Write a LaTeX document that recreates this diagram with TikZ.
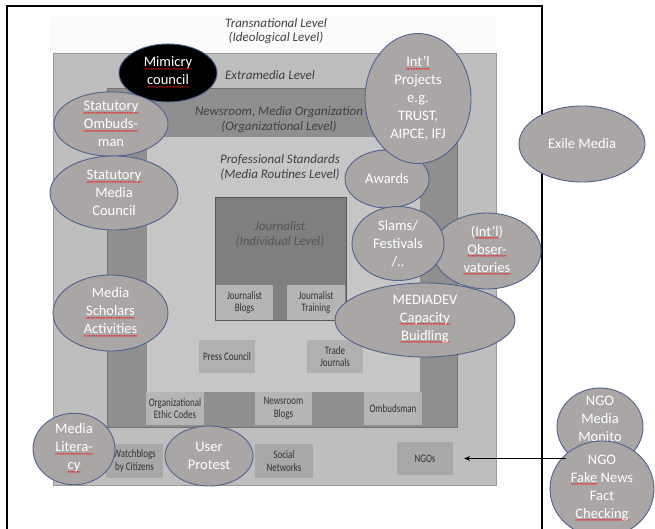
\documentclass[tikz,border=0pt]{standalone}
\usepackage{fontspec}
\setmainfont{Carlito}
\newfontfamily\condfont[FakeStretch=0.78]{Carlito}
\usetikzlibrary{shapes.geometric,arrows.meta}
\definecolor{ringA}{HTML}{BEBEBE}
\definecolor{ringB}{HTML}{8F8F8F}
\definecolor{ringC}{HTML}{C6C6C6}
\definecolor{ringD}{HTML}{7F7F7F}
\definecolor{bubfill}{HTML}{AAA6A6}
\definecolor{bubline}{HTML}{50628E}
\definecolor{lbl}{HTML}{404040}
\definecolor{jourtxt}{HTML}{555555}
\newcommand{\spell}[1]{\setbox0\hbox{#1}\leavevmode\rlap{\color{red}\lower4.5pt\hbox to\wd0{\xleaders\hbox{\fontsize{7.5}{7.5}\selectfont\kern-0.6pt\char`\~\kern-0.6pt}\hfil}}\box0\relax}
\begin{document}
\begin{tikzpicture}[x=1pt,y=-1pt,
	bubtext/.style={text=white,inner sep=0pt,align=center,font=\fontsize{14.5}{18}\selectfont},
	bubble/.style={ellipse,draw=bubline,line width=0.9pt,fill=bubfill,bubtext},
	bub/.style 2 args={bubble,minimum width=#1,minimum height=#2},
	box/.style={fill=#1,text=black!80,inner sep=0pt,align=center,font=\condfont\fontsize{11.5}{12.5}\selectfont},
	level/.style={text=lbl,align=center,font=\itshape\fontsize{13}{14.5}\selectfont}]
	\useasboundingbox (0,0) rectangle (655,529);
	\fill[white] (0,0) rectangle (655,529);
	\draw[line width=1.3pt] (7,529) -- (7,6) -- (542,6) -- (542,529);
	\fill[gray!3] (50,17) rectangle (497,53);
	\draw[fill=ringA,draw=gray!80] (53,53) rectangle (496,485);
	\draw[fill=ringB,draw=gray!90!black] (107,88) rectangle (457,427);
	\fill[ringC] (147,137) rectangle (420,392);
	\draw[fill=ringD,draw=gray!70!black] (215,197) rectangle (346,320);
	\node[level] (trans) at (276,31) {Transnational Level\\(Ideological Level)};
	\node[level] (extra) at (270,75) {Extramedia Level};
	\node[level] (news) at (279,119.5) {Newsroom, Media Organization\\(Organizational Level)};
	\node[level] (prof) at (280,167.5) {Professional Standards\\(Media Routines Level)};
	\node[level,text=jourtxt,font=\itshape\fontsize{13}{15}\selectfont] (jour) at (280,234.5) {Journalist\\(Individual Level)};
	\node[box=gray!58,minimum width=57,minimum height=35] (jblogs) at (244.5,302.5) {Journalist\\Blogs};
	\node[box=gray!58,minimum width=58,minimum height=35] (jtrain) at (316,302.5) {Journalist\\Training};
	\node[box=gray!62,minimum width=56,minimum height=33] (press) at (227,356.5) {Press Council};
	\node[box=gray!62,minimum width=56,minimum height=33] (trade) at (335,356.5) {Trade\\Journals};
	\node[box=gray!58,minimum width=58,minimum height=33] (ethic) at (175,408.5) {Organizational\\Ethic Codes};
	\node[box=gray!58,minimum width=57,minimum height=33] (nblogs) at (283.5,408.5) {Newsroom\\Blogs};
	\node[box=gray!58,minimum width=58,minimum height=33] (ombud) at (393,408.5) {Ombudsman};
	\node[box=gray!68,minimum width=57,minimum height=34] (watch) at (134.5,461) {Watchblogs\\by Citizens};
	\node[box=gray!68,minimum width=58,minimum height=34] (social) at (284,461) {Social\\Networks};
	\node[box=gray!68,minimum width=56,minimum height=33] (ngos) at (425,458.5) {NGOs};
	\node[bub={98}{58},fill=black] (mimic) at (168,73) {\spell{Mimicry}\\\spell{council}};
	\node[bub={114}{62}] (sombud) at (111,124) {\spell{Statutory}\\\spell{Ombuds-}\\man};
	\node[bub={128}{74}] (smc) at (114,193) {\spell{Statutory}\\Media\\Council};
	\node[bub={115}{76}] (scholar) at (110.5,313) {Media\\\spell{Scholars}\\\spell{Activities}};
	\node[bub={82}{68}] (liter) at (74,449) {Media\\\spell{Litera-}\\\spell{cy}};
	\node[bub={88}{60}] (protest) at (209,456) {User\\Protest};
	\node[bub={84}{58}] (awards) at (387,179) {Awards};
	\node[bub={106}{130}] (intl) at (418,98.5) {\spell{Int’l}\\Projects\\e.g.\\TRUST,\\AIPCE, IFJ};
	\node[bub={126}{76}] (exile) at (582,144) {Exile Media};
	\node[bub={108}{76}] (observ) at (487,251) {(\spell{Int’l})\\\spell{Obser-}\\\spell{vatories}};
	\node[bub={92}{74}] (slams) at (398,243.5) {Slams/\\Festivals\\/..};
	\node[bub={180}{74}] (mdev) at (425,320) {MEDIADEV\\\spell{Capacity}\\\spell{Buidling}};
	\node[bub={86}{78}] (monito) at (600,427) {};
	\node[bubtext] (monitotext) at (600,419) {NGO\\Media\\Monito};
	\node[bub={104}{78}] (fake) at (602,489) {NGO\\\spell{Fake} News\\Fact\\\spell{Checking}};
	\draw[line width=0.9pt,-{Stealth[length=6pt,width=5pt]},shorten >=11pt] (ngos.east -| fake.136) -- (ngos.east);
\end{tikzpicture}
\end{document}
